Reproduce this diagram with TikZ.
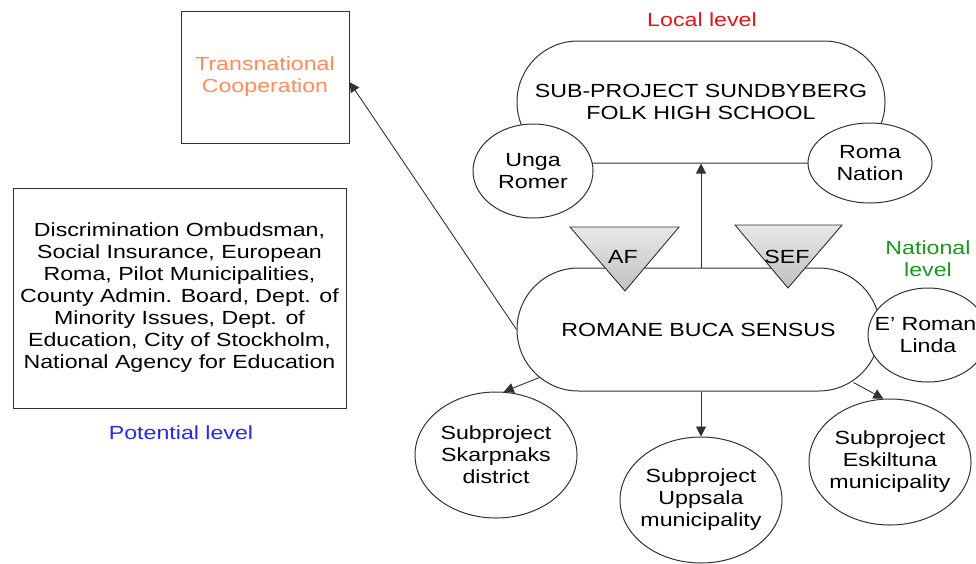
\documentclass[tikz,border=0pt]{standalone}
\usepackage{fontspec}
\setmainfont{Liberation Sans}[FakeStretch=1.22]
\usetikzlibrary{arrows.meta,shapes.geometric,calc}
\definecolor{lnc}{RGB}{50,50,50}
\definecolor{orangec}{RGB}{255,140,90}
\definecolor{redc}{RGB}{230,20,20}
\definecolor{greenc}{RGB}{30,150,30}
\definecolor{bluec}{RGB}{40,40,245}
\begin{document}
\begin{tikzpicture}[x=1pt,y=-1pt,
  every node/.style={font=\fontsize{19}{22}\selectfont, text=black},
  lineset/.style={draw=lnc, line width=1pt},
  box/.style={lineset, fill=white, rectangle, inner sep=0pt},
  stadium/.style={lineset, fill=white, rectangle, inner sep=0pt, align=center},
  ell/.style={lineset, fill=white, ellipse, inner sep=0pt},
  arr/.style={draw=lnc, line width=0.9pt, -{Triangle[length=10pt,width=10pt]}},
  tri/.style={draw=lnc, line width=0.9pt, top color=gray!18, bottom color=gray!50}
]
\useasboundingbox (0,0) rectangle (976,563);

% left side
\node[box, minimum width=168pt, minimum height=132pt, align=center, text=orangec] (trans) at (265,77) {Transnational\\Cooperation};
\node[box, minimum width=333pt, minimum height=220pt, align=center] (partners) at (179.5,298) {Discrimination Ombudsman,\\Social Insurance, European\\Roma, Pilot Municipalities,\\County Admin. Board, Dept. of\\Minority Issues, Dept. of\\Education, City of Stockholm,\\National Agency for Education};
\node[text=bluec] (potential) at (181,433) {Potential level};

% level labels
\node[text=redc] (local) at (702,20) {Local level};
\node[text=greenc, align=center] (national) at (928,259) {National\\level};

% stadium shapes
\node[stadium, rounded corners=60.9pt, minimum width=368pt, minimum height=122pt] (sund) at (701,102) {SUB-PROJECT SUNDBYBERG\\FOLK HIGH SCHOOL};
\node[stadium, rounded corners=61.4pt, minimum width=363pt, minimum height=123pt] (romane) at (698.5,329.5) {ROMANE BUCA SENSUS};

% circles
\node[ell, minimum width=120pt, minimum height=94pt, label={[align=center]center:Unga\\Romer}] (unga) at (533,171) {};
\node[ell, minimum width=124pt, minimum height=80pt, label={[align=center]center:Roma\\Nation}] (roma) at (870,163) {};
\node[ell, minimum width=120pt, minimum height=94pt, label={[align=center]center:E' Romani\\Linda}] (eromani) at (928,335) {};
\node[ell, minimum width=162pt, minimum height=126pt, label={[align=center]center:Subproject\\Skarpnaks\\district}] (skarp) at (496,455) {};
\node[ell, minimum width=162pt, minimum height=126pt, label={[align=center]center:Subproject\\Uppsala\\municipality}] (upp) at (701,500) {};
\node[ell, minimum width=162pt, minimum height=126pt, label={[align=center]center:Subproject\\Eskiltuna\\municipality}] (esk) at (890,462) {};

% funding triangles
\path[tri] (570,227) -- (679,227) -- (625,291) -- cycle;
\node (af) at (623,257) {AF};
\path[tri] (735,225) -- (842,225) -- (788,288) -- cycle;
\node (sef) at (787,257) {SEF};

% connectors
\draw[arr] (romane.north -| sund.south) -- (sund.south);
\draw[arr] (romane.west) -- ([yshift=-5pt]trans.east);
\draw[arr] ($(romane.south west)+(23,-14)$) -- (skarp.83);
\draw[arr] (romane.south -| upp.north) -- (upp.north);
\draw[arr] ($(romane.south east)+(-27,-9)$) -- (esk.96);
\end{tikzpicture}
\end{document}
